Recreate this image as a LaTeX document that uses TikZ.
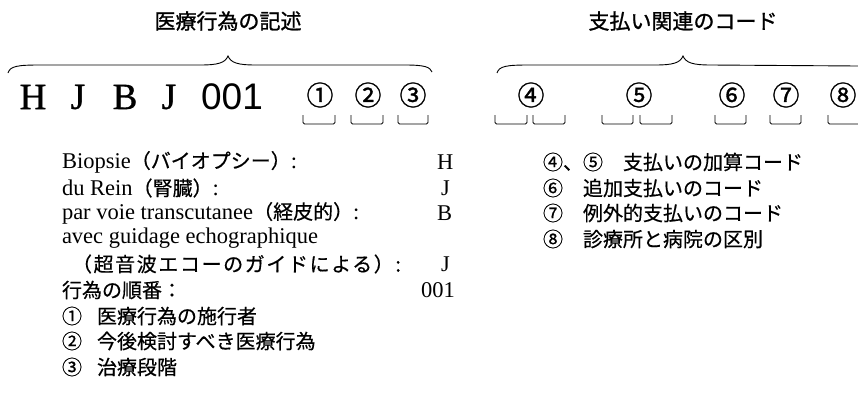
\documentclass[tikz,border=0pt]{standalone}
\usepackage{fontspec}
\setmainfont{Liberation Serif}
\newfontfamily\jp[FakeBold=0.5]{Noto Sans CJK JP}
\newfontfamily\jpwide[FakeBold=0.5,LetterSpace=8]{Noto Sans CJK JP}
\newfontfamily\jpb[FakeBold=1.2]{Noto Sans CJK JP}
\newfontfamily\codeserif[FakeBold=1]{Liberation Serif}
\newfontfamily\gsans{Liberation Sans}
\begin{document}
\begin{tikzpicture}[x=1pt,y=-1pt,
  every node/.style={inner sep=0pt, outer sep=0pt},
  ttl/.style={font=\jpb\fontsize{21}{25}\selectfont},
  codeletter/.style={font=\codeserif\fontsize{37}{42}\selectfont},
  codenum/.style={font=\gsans\fontsize{37}{42}\selectfont},
  circnum/.style={font=\jpb\fontsize{27}{30}\selectfont},
  body/.style={anchor=west, font=\fontsize{22.5}{26}\selectfont},
  jbody/.style={anchor=west, font=\jp\fontsize{20}{24}\selectfont},
  slot/.style={draw, line width=0.9pt, rounded corners=1.5pt},
  brace/.style={draw, line width=0.9pt}]
\useasboundingbox (0,0) rectangle (858,418);
% titles
\node[ttl] (t1) at (228,21) {医療行為の記述};
\node[ttl] (t2) at (683,21) {支払い関連のコード};
% braces
\draw[brace] (8,73) .. controls (10,66) and (18,65) .. (40,65) -- (200,65)
  .. controls (218,65) and (225,63) .. (228,56)
  .. controls (231,63) and (238,65) .. (256,65) -- (405,65)
  .. controls (425,65) and (430,67) .. (432,72);
\draw[brace] (497,73) .. controls (499,66) and (507,65) .. (529,65) -- (655,65)
  .. controls (673,65) and (680,63) .. (683,56)
  .. controls (686,63) and (693,65) .. (711,65) -- (858,66);
% code row
\node[codeletter] (cH) at (33,97) {H};
\node[codeletter] (cJ1) at (78,97) {J};
\node[codeletter] (cB) at (125,97) {B};
\node[codeletter] (cJ2) at (169,97) {J};
\node[codenum] (c001) at (232,97) {001};
\node[circnum] (n1) at (320,95) {①};
\node[circnum] (n2) at (368,95) {②};
\node[circnum] (n3) at (413,95) {③};
\node[circnum] (n4) at (531,95) {④};
\node[circnum] (n5) at (639,95) {⑤};
\node[circnum] (n6) at (732,95) {⑥};
\node[circnum] (n7) at (786,95) {⑦};
\node[circnum] (n8) at (843,95) {⑧};
% slots
\foreach \a/\b in {303/335,351/383,398/428,495/527,533/565,602/633,640/672,715/746,770/801,828/860}
  \draw[slot] (\a,115) -- (\a,124) -- (\b,124) -- (\b,115);
% left explanations
\node[body] (l1) at (62,162) {Biopsie{\jp\fontsize{20}{24}\selectfont （バイオプシー）}:};
\node[body] (l2) at (62,188) {du Rein{\jp\fontsize{20}{24}\selectfont （腎臓）}:};
\node[body] (l3) at (62,213) {par voie transcutanee{\jp\fontsize{20}{24}\selectfont （経皮的）}:};
\node[body] (l4) at (62,238) {avec guidage echographique};
\node[jbody, font=\jpwide\fontsize{20}{24}\selectfont] (l5) at (72,264) {（超音波エコーのガイドによる）:};
\node[jbody] (l6) at (62,290) {行為の順番：};
\node[jbody] (l7) at (62,316) {①\hspace{15pt}医療行為の施行者};
\node[jbody] (l8) at (62,341) {②\hspace{15pt}今後検討すべき医療行為};
\node[jbody] (l9) at (62,367) {③\hspace{15pt}治療段階};
% values
\node[body] (v1) at (437,162) {H};
\node[body] (v2) at (441,188) {J};
\node[body] (v3) at (437,213) {B};
\node[body] (v4) at (441,264) {J};
\node[body] (v5) at (421,290) {001};
% right explanations
\node[jbody] (r1) at (543,162) {④、⑤　支払いの加算コード};
\node[jbody] (r2) at (543,188) {⑥　追加支払いのコード};
\node[jbody] (r3) at (543,213) {⑦　例外的支払いのコード};
\node[jbody] (r4) at (543,239) {⑧　診療所と病院の区別};
\end{tikzpicture}
\end{document}
